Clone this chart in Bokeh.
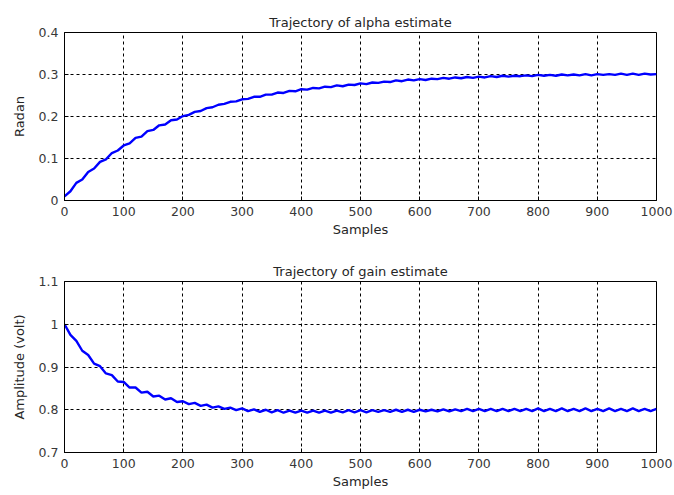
from bokeh.plotting import figure
from bokeh.layouts import column
from bokeh.models import Range1d, FixedTicker
from bokeh.embed import file_html
from bokeh.resources import INLINE

samples = list(range(0, 1001, 10))

alpha_est = [0.010, 0.022, 0.042, 0.050, 0.068, 0.076, 0.092, 0.098, 0.113, 0.119,
             0.131, 0.136, 0.149, 0.152, 0.165, 0.168, 0.179, 0.181, 0.191, 0.193,
             0.201, 0.204, 0.211, 0.213, 0.220, 0.222, 0.228, 0.230, 0.235, 0.236,
             0.241, 0.242, 0.247, 0.247, 0.252, 0.252, 0.257, 0.256, 0.261, 0.260,
             0.265, 0.264, 0.268, 0.267, 0.271, 0.270, 0.274, 0.272, 0.276, 0.275,
             0.279, 0.277, 0.281, 0.280, 0.283, 0.282, 0.286, 0.284, 0.288, 0.286,
             0.289, 0.287, 0.290, 0.289, 0.292, 0.290, 0.293, 0.291, 0.294, 0.292,
             0.295, 0.293, 0.296, 0.294, 0.297, 0.295, 0.297, 0.296, 0.298, 0.296,
             0.299, 0.297, 0.299, 0.297, 0.300, 0.298, 0.300, 0.298, 0.301, 0.298,
             0.301, 0.299, 0.301, 0.299, 0.302, 0.299, 0.302, 0.299, 0.302, 0.300,
             0.301]

gain_est = [1.000, 0.975, 0.961, 0.938, 0.928, 0.908, 0.902, 0.885, 0.881, 0.866,
            0.865, 0.852, 0.852, 0.840, 0.842, 0.831, 0.833, 0.824, 0.827, 0.818,
            0.820, 0.813, 0.816, 0.809, 0.812, 0.805, 0.808, 0.802, 0.805, 0.799,
            0.803, 0.797, 0.801, 0.795, 0.800, 0.794, 0.799, 0.793, 0.798, 0.793,
            0.798, 0.793, 0.798, 0.793, 0.798, 0.793, 0.798, 0.794, 0.799, 0.794,
            0.799, 0.794, 0.799, 0.795, 0.799, 0.795, 0.800, 0.795, 0.800, 0.795,
            0.800, 0.796, 0.800, 0.796, 0.801, 0.796, 0.801, 0.797, 0.802, 0.797,
            0.802, 0.797, 0.802, 0.797, 0.802, 0.797, 0.802, 0.797, 0.802, 0.797,
            0.803, 0.797, 0.802, 0.797, 0.803, 0.797, 0.802, 0.797, 0.803, 0.797,
            0.802, 0.797, 0.803, 0.797, 0.802, 0.797, 0.803, 0.797, 0.802, 0.797,
            0.802]

x_ticks = [0, 100, 200, 300, 400, 500, 600, 700, 800, 900, 1000]
top_ticks = [0, 0.1, 0.2, 0.3, 0.4]
top_labels = ["0", "0.1", "0.2", "0.3", "0.4"]
bot_ticks = [0.7, 0.8, 0.9, 1.0, 1.1]
bot_labels = ["0.7", "0.8", "0.9", "1", "1.1"]

FONT = "DejaVu Sans"
TXT = "#262626"
TICK = "#383838"


def make(title, ylabel, y, yr, yt, yl, height, bt, bb, br):
    p = figure(width=674, height=height, output_backend="svg", toolbar_location=None,
               x_range=Range1d(0, 1000), y_range=Range1d(*yr),
               min_border_left=64, min_border_right=br, min_border_top=bt,
               min_border_bottom=bb)
    p.title.text = title
    p.title.align = "center"
    p.title.text_font = FONT
    p.title.text_font_size = "13px"
    p.title.text_font_style = "normal"
    p.title.text_color = TXT
    p.title.offset = 0
    p.title.standoff = 5
    p.line(samples, y, line_color="#0000ff", line_width=2.4)
    p.outline_line_color = "black"
    p.outline_line_width = 1
    p.outline_line_alpha = 1
    for ax in (p.xaxis[0], p.yaxis[0]):
        ax.axis_line_color = "black"
        ax.major_tick_in = 4
        ax.major_tick_out = 0
        ax.minor_tick_line_color = None
        ax.major_tick_line_color = "black"
        ax.major_label_text_font = FONT
        ax.major_label_text_font_size = "12.5px"
        ax.major_label_text_color = TICK
        ax.axis_label_text_font = FONT
        ax.axis_label_text_font_size = "13px"
        ax.axis_label_text_font_style = "normal"
        ax.axis_label_text_color = TXT
    p.xaxis.ticker = FixedTicker(ticks=x_ticks)
    p.yaxis.ticker = FixedTicker(ticks=yt)
    p.yaxis.major_label_overrides = {t: l for t, l in zip(yt, yl)}
    p.xaxis.axis_label = "Samples"
    p.yaxis.axis_label = ylabel
    p.xaxis.major_label_standoff = 6
    p.xaxis.axis_label_standoff = 3
    p.yaxis.major_label_standoff = 6
    p.yaxis.axis_label_standoff = 9
    p.grid.grid_line_color = "black"
    p.grid.grid_line_dash = "3 3"
    p.grid.grid_line_width = 1
    p.xgrid.ticker = FixedTicker(ticks=x_ticks)
    p.ygrid.ticker = FixedTicker(ticks=yt)
    return p


p1 = make("Trajectory of alpha estimate", "Radan", alpha_est, (0, 0.4),
          top_ticks, top_labels, 245, 32, 45, 18)
p2 = make("Trajectory of gain estimate", "Amplitude (volt)", gain_est, (0.7, 1.1),
          bot_ticks, bot_labels, 250, 36, 43, 15)

layout = column(p1, p2, spacing=0)
open("out.html", "w").write(file_html(layout, INLINE))
